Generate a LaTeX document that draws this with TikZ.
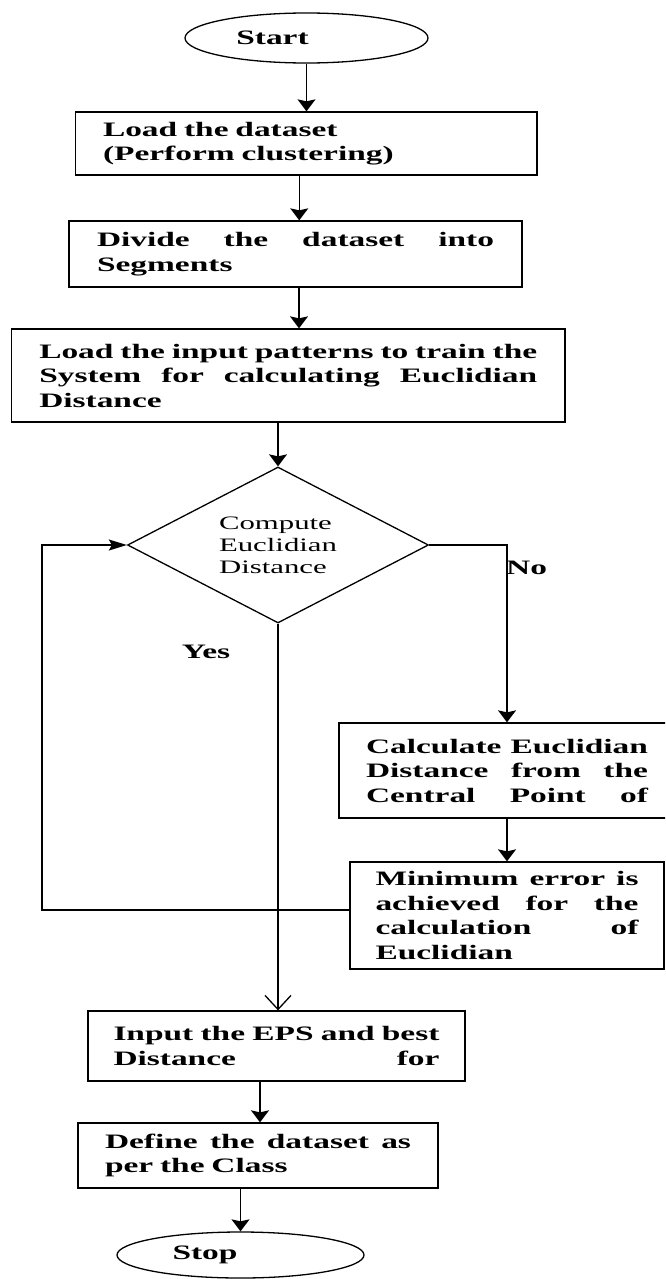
\documentclass[tikz,border=0pt]{standalone}
\usepackage{fontspec}
\setmainfont{Liberation Serif}[FakeStretch=1.62]
\newfontfamily\boxfont{Liberation Serif}[FakeStretch=1.63]
\usetikzlibrary{arrows.meta,shapes.geometric}
\newcommand{\jline}[1]{{\spaceskip=0pt\xspaceskip=0pt\makebox[\hsize][s]{#1}}}
\tikzset{
  flow/.style={line width=1.3pt, draw=black},
  stepbox/.style={flow, rectangle, inner sep=0pt, align=left, font=\boxfont\fontsize{20.5}{24.5}\selectfont\bfseries},
  term/.style={flow, ellipse, inner sep=0pt, font=\boxfont\fontsize{20.5}{24}\selectfont\bfseries},
  decide/.style={flow, diamond, aspect=1.93, inner sep=0pt, align=left, font=\fontsize{19}{22}\selectfont},
  varr/.style={flow, -{Stealth[length=12pt,width=18pt,inset=2pt]}},
  harr/.style={flow, -{Stealth[length=18pt,width=11pt,inset=3pt]}},
  openarr/.style={flow, -{Straight Barb[length=14pt,width=26pt]}},
  lbl/.style={font=\boxfont\fontsize{20.5}{24}\selectfont\bfseries, inner sep=0pt},
}
\begin{document}
\begin{tikzpicture}[x=1pt,y=-1pt]
\useasboundingbox (0,0) rectangle (665,1279);
\fill[white] (0,0) rectangle (665,1279);
\clip (0,0) rectangle (665,1279);

\node[term, minimum width=243pt, minimum height=50pt] (start) at (306.5,38) {Start\hspace{68pt}\null};

\node[stepbox, minimum width=461.5pt, minimum height=63pt, text width=406.5pt] (b1) at (306.25,143.5)
  {Load the dataset\\(Perform clustering)};

\node[stepbox, minimum width=453pt, minimum height=66pt, text width=397pt] (b2) at (295.5,254)
  {\jline{Divide the dataset into}\\Segments};

\node[stepbox, minimum width=553.5pt, minimum height=93pt, text width=498pt] (b3) at (288.25,375.5)
  {\jline{Load the input patterns to train the}\\\jline{System for calculating Euclidian}\\Distance};

\node[decide, minimum width=301pt, minimum height=156pt] (dia) at (278,545)
  {Compute\\Euclidian\\Distance};

\node[stepbox, minimum width=336pt, minimum height=95pt, text width=282pt] (calc) at (507,770.5)
  {\jline{Calculate Euclidian}\\\jline{Distance from the}\\\jline{Central Point of}};

\node[stepbox, minimum width=314pt, minimum height=107pt, text width=263pt] (min) at (507,915.5)
  {\jline{Minimum error is}\\\jline{achieved for the}\\\jline{calculation of}\\Euclidian};

\node[stepbox, minimum width=377pt, minimum height=70pt, text width=326pt] (inp) at (276.5,1046)
  {\jline{Input the EPS and best}\\\jline{Distance for}};

\node[stepbox, minimum width=360pt, minimum height=65pt, text width=306pt] (def) at (258,1155.5)
  {\jline{Define the dataset as}\\per the Class};

\node[term, minimum width=247pt, minimum height=46pt] (stop) at (240.5,1255) {Stop\hspace{71pt}\null};

\node[lbl, anchor=west] (no) at (506,568) {No};
\node[lbl] (yes) at (206,652) {Yes};

\coordinate (loop) at (42,910);

\draw[varr] (start.south) -- (start.south |- b1.north);
\draw[varr] ([xshift=-7pt]b1.south) -- ([xshift=-7pt]b1.south |- b2.north);
\draw[varr] ([xshift=3.5pt]b2.south) -- ([xshift=3.5pt]b2.south |- b3.north);
\draw[varr] (b3.south -| dia.north) -- (dia.north);
\draw[openarr] (dia.south) -- (dia.south |- inp.north);
\draw[varr] ([xshift=2pt]def.north |- inp.south) -- ([xshift=2pt]def.north);
\draw[varr] (stop.north |- def.south) -- (stop.north);
\draw[varr] (dia.east) -| (calc.north);
\draw[varr] (calc.south) -- (calc.south |- min.north);
\draw[harr] (min.west |- loop) -- (loop) |- (dia.west);
\end{tikzpicture}
\end{document}
